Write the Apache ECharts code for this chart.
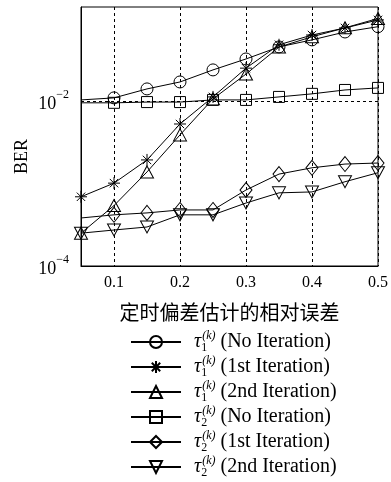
<!DOCTYPE html>
<html><head><meta charset="utf-8">
<script src="https://cdn.jsdelivr.net/npm/echarts@6/dist/echarts.min.js"></script>
<style>html,body{margin:0;padding:0;background:#fff}#c{width:391px;height:482px}</style>
</head><body><div id="c"></div>
<script>
// ---- data ----
const xValues = [0.05, 0.1, 0.15, 0.2, 0.25, 0.3, 0.35, 0.4, 0.45, 0.5];
const tau1NoIter = [0.0103, 0.0109, 0.0140, 0.0170, 0.0238, 0.0323, 0.0452, 0.055, 0.0686, 0.0795];
const tau1Iter1  = [6.9e-4, 1.01e-3, 1.93e-3, 5.26e-3, 0.0112, 0.025, 0.048, 0.063, 0.0767, 0.096];
const tau1Iter2  = [2.5e-4, 5.4e-4, 1.38e-3, 3.88e-3, 0.0106, 0.0212, 0.045, 0.060, 0.077, 0.100];
const tau2NoIter = [9.5e-3, 9.5e-3, 9.7e-3, 9.7e-3, 0.0103, 0.0103, 0.0112, 0.0122, 0.0136, 0.0144];
const tau2Iter1  = [3.82e-4, 4.17e-4, 4.4e-4, 4.78e-4, 4.78e-4, 8.34e-4, 1.3e-3, 1.55e-3, 1.72e-3, 1.77e-3];
const tau2Iter2  = [2.5e-4, 2.73e-4, 2.97e-4, 4.17e-4, 4.17e-4, 5.8e-4, 7.7e-4, 7.9e-4, 1.05e-3, 1.35e-3];
const seriesSub    = ['1', '1', '1', '2', '2', '2'];
const seriesSuffix = ['No Iteration', '1st Iteration', '2nd Iteration', 'No Iteration', '1st Iteration', '2nd Iteration'];
const firstMarkerHidden = [true, false, false, true, true, false];
const xTickLabels = ['0.1', '0.2', '0.3', '0.4', '0.5'];
const yTickExponents = [-4, -2];
const xAxisTitle = '定时偏差估计的相对误差';
const yAxisTitle = 'BER';
const refLineValue = 0.01;

const allValues = [tau1NoIter, tau1Iter1, tau1Iter2, tau2NoIter, tau2Iter1, tau2Iter2];
const symbols = [
  'circle',
  'path://M5,0L5,10M0,5L10,5M1.5,1.5L8.5,8.5M1.5,8.5L8.5,1.5',
  'triangle',
  'rect',
  'diamond',
  'path://M0,0L10,0L5,9Z'
];
const symbolSizes = [12, 12, [13, 12], 11, [12, 15], [13, 12]];
const serif = 'Liberation Serif';
const names = seriesSub.map((s, i) => 'tau' + s + ' (' + seriesSuffix[i] + ')');

const series = allValues.map((vals, i) => {
  const s = {
    type: 'line',
    name: names[i],
    data: vals.map((v, j) => {
      const item = { value: [xValues[j], v] };
      if (j === 0 && firstMarkerHidden[i]) item.symbol = 'none';
      return item;
    }),
    symbol: symbols[i],
    symbolSize: symbolSizes[i],
    lineStyle: { color: '#000', width: 1 },
    itemStyle: { color: 'transparent', borderColor: '#000', borderWidth: 1 },
    emphasis: { disabled: true },
    animation: false,
    z: 3
  };
  if (i === 0) {
    s.markLine = {
      silent: true, symbol: 'none', label: { show: false },
      lineStyle: { color: '#000', type: [3, 3], width: 1 },
      data: [{ yAxis: refLineValue }]
    };
  }
  return s;
});

const chart = echarts.init(document.getElementById('c'), null, { renderer: 'canvas' });
chart.setOption({
  backgroundColor: '#fff',
  animation: false,
  grid: { left: 81, right: 13, top: 7, bottom: 216, show: true, borderColor: '#000', borderWidth: 1, backgroundColor: 'transparent' },
  xAxis: {
    type: 'value', min: 0.05, max: 0.5, splitNumber: 5,
    name: xAxisTitle, nameLocation: 'middle', nameGap: 36,
    nameTextStyle: { fontFamily: 'Noto Sans CJK SC', fontSize: 20, color: '#000' },
    axisLine: { lineStyle: { color: '#000', width: 1 } },
    axisTick: { show: false },
    axisLabel: {
      margin: 9, fontFamily: serif, fontSize: 16, color: '#000',
      formatter: v => {
        const lab = (Math.abs(v * 10 - Math.round(v * 10)) < 1e-6) ? (Math.round(v * 10) / 10).toFixed(1) : '';
        return xTickLabels.includes(lab) ? lab : '';
      }
    },
    splitLine: { show: true, lineStyle: { color: '#000', type: [3, 3], width: 1 } }
  },
  yAxis: {
    type: 'log', logBase: 10, min: 1e-4, max: 0.1377,
    name: yAxisTitle, nameLocation: 'middle', nameGap: 50, nameRotate: 90, nameMoveOverlap: false,
    nameTextStyle: { fontFamily: serif, fontSize: 18, color: '#000', padding: [0, 40, 0, 0] },
    axisLine: { show: true, lineStyle: { color: '#000', width: 1 } },
    axisTick: { show: false },
    splitLine: { show: false },
    axisLabel: {
      margin: 12, color: '#000',
      formatter: v => {
        const l = Math.log10(v);
        const e = Math.round(l);
        if (Math.abs(l - e) > 1e-6 || !yTickExponents.includes(e)) return '';
        return '{b|10}{e|\u2212' + (-e) + '}';
      },
      rich: {
        b: { fontFamily: serif, fontSize: 18, color: '#000', lineHeight: 24, verticalAlign: 'bottom' },
        e: { fontFamily: serif, fontSize: 12, color: '#000', lineHeight: 12, verticalAlign: 'top' }
      }
    }
  },
  legend: {
    orient: 'vertical', left: 130, top: 330, padding: 0,
    itemWidth: 50, itemHeight: 15, itemGap: 1, selectedMode: false,
    data: names,
    formatter: name => {
      const i = names.indexOf(name);
      return '{t|\u03c4}{s|' + seriesSub[i] + '}{p|(k)}{n| (' + seriesSuffix[i] + ')}';
    },
    textStyle: {
      color: '#000',
      rich: {
        t: { fontFamily: serif, fontStyle: 'italic', fontSize: 20, color: '#000', lineHeight: 24, padding: [0, 0, 0, 8] },
        s: { fontFamily: serif, fontSize: 12, color: '#000', lineHeight: 12, verticalAlign: 'bottom', width: 1 },
        p: { fontFamily: serif, fontStyle: 'italic', fontSize: 12, color: '#000', lineHeight: 12, verticalAlign: 'top' },
        n: { fontFamily: serif, fontSize: 20, color: '#000', lineHeight: 24 }
      }
    }
  },
  series: series
});
</script></body></html>
